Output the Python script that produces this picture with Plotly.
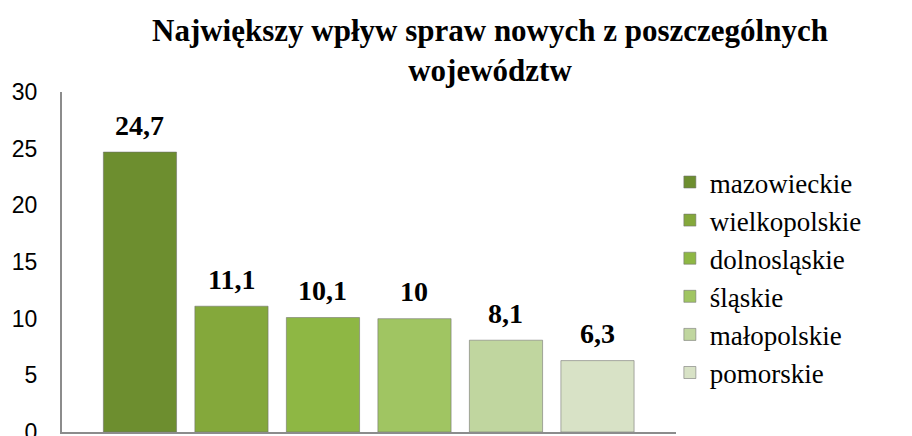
import plotly.graph_objects as go

categories = ["mazowieckie", "wielkopolskie", "dolnosląskie", "śląskie", "małopolskie", "pomorskie"]
values = [24.7, 11.1, 10.1, 10, 8.1, 6.3]
colors = ["#6d8e2f", "#84a83b", "#8eb744", "#a0c562", "#c0d69f", "#d8e2c6"]
y_ticks = [0, 5, 10, 15, 20, 25, 30]
title_text = "Największy wpływ spraw nowych z poszczególnych<br>województw"

SERIF = "Liberation Serif, Times New Roman, serif"

fig = go.Figure()
for i, (c, v, col) in enumerate(zip(categories, values, colors)):
    fig.add_trace(go.Bar(
        x=[c], y=[v], name=c,
        marker=dict(color=col, line=dict(color="rgba(110,110,110,0.55)", width=1)),
        legendgroup=f"g{i}",
        showlegend=True,
    ))
    fig.add_annotation(
        x=c, y=v, text="<b>" + f"{v:g}".replace(".", ",") + "</b>",
        showarrow=False, yshift=27, yanchor="middle",
        font=dict(family=SERIF, size=28, color="black"),
    )

# the page body adds an 8px offset, so margins are compensated
fig.update_layout(
    width=912, height=436,
    margin=dict(l=54, r=244, t=84, b=12, autoexpand=False),
    paper_bgcolor="white", plot_bgcolor="white",
    barmode="overlay", bargap=0.2,
    font=dict(family=SERIF),
    title=dict(text="<b>" + title_text + "</b>", x=482 / 912, xref="container", xanchor="center",
               y=1 - 33 / 436, yref="container", yanchor="middle",
               font=dict(family=SERIF, size=31, color="black")),
    legend=dict(x=0.99, xanchor="left", y=0.806, yanchor="top",
                font=dict(family=SERIF, size=27, color="black"),
                tracegroupgap=0, itemwidth=30, bgcolor="rgba(0,0,0,0)"),
    showlegend=True,
)
fig.update_xaxes(range=[-0.852, 5.858], showticklabels=False, showgrid=False, automargin=False,
                 showline=True, linecolor="#8c8c8c", linewidth=2, zeroline=False, ticks="")
fig.update_yaxes(range=[0, 30], tickvals=y_ticks, showgrid=False, zeroline=False, automargin=False,
                 showline=True, linecolor="#8c8c8c", linewidth=2, ticks="",
                 ticklabelstandoff=18, ticklabeloverflow="allow",
                 tickfont=dict(family="Liberation Sans", size=23, color="black"))

fig.write_html("out.html")
